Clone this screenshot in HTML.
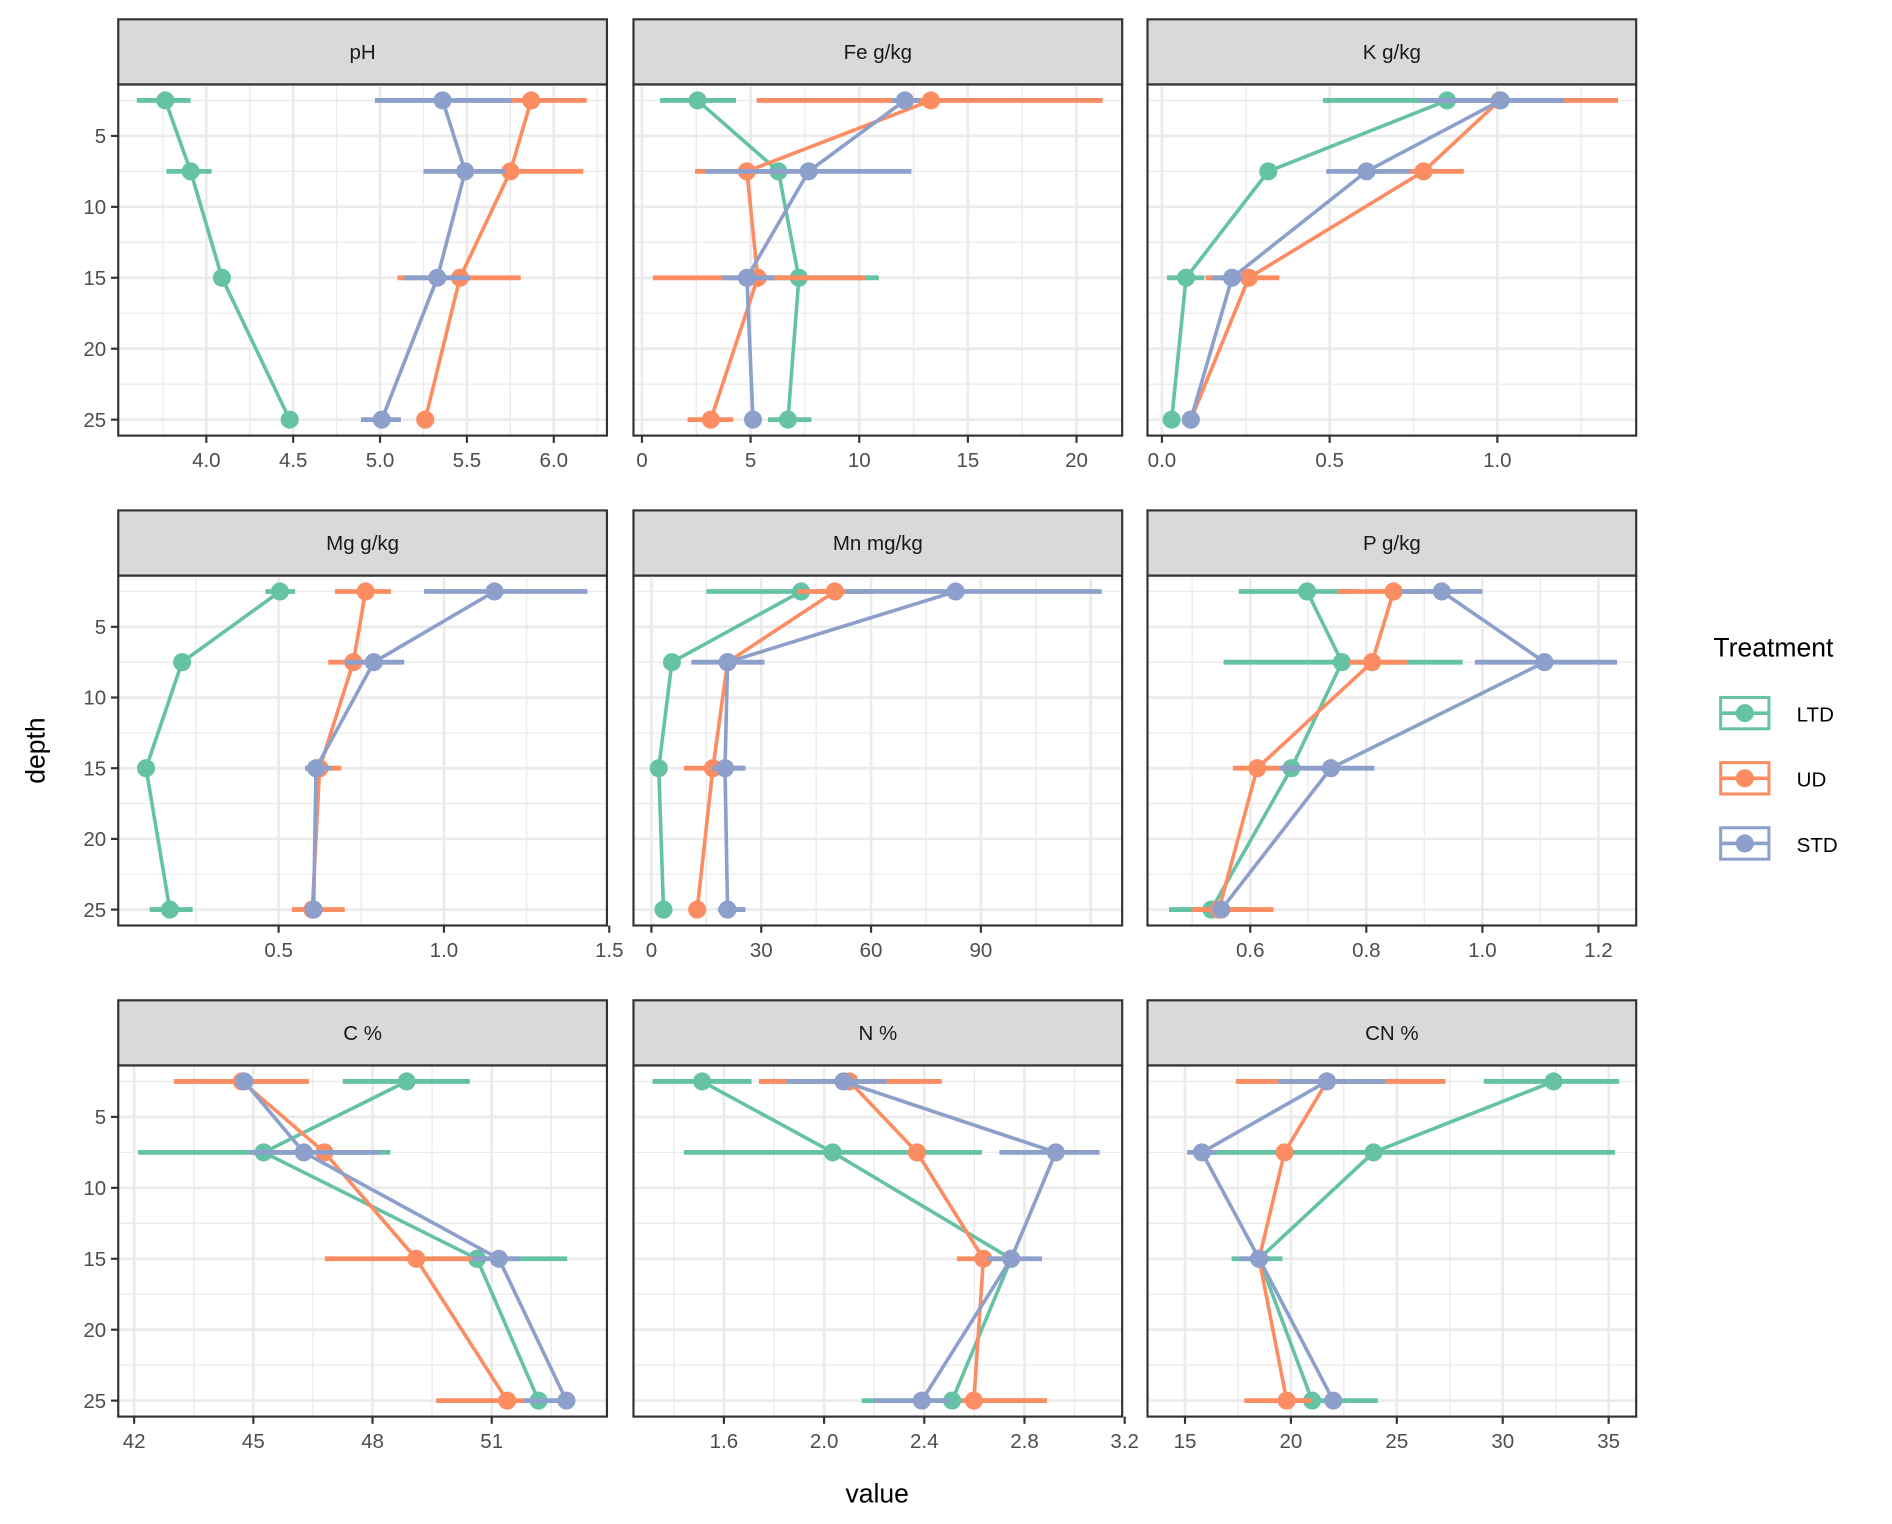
<!DOCTYPE html>
<html><head><meta charset="utf-8"><style>
html,body{margin:0;padding:0;background:#fff}
svg{display:block}
text{font-family:"Liberation Sans",sans-serif}
</style></head><body>
<svg id="chart" xmlns="http://www.w3.org/2000/svg" width="1892" height="1524" viewBox="0 0 1568 1263"></svg>
<script>
const depths = [2.5, 7.5, 15, 25];
const groups = ["LTD", "UD", "STD"];
const colors = {LTD: "#66c2a5", UD: "#fc8d62", STD: "#8da0cb"};
const panelTitles = ["pH","Fe g/kg","K g/kg","Mg g/kg","Mn mg/kg","P g/kg","C %","N %","CN %"];
const xDomains = [[3.493,6.306],[-0.39,22.1],[-0.043,1.414],[0.015,1.493],[-4.9,128.6],[0.423,1.265],[41.6,53.9],[1.239,3.19],[13.23,36.3]];
const xTicks = [[4.0,4.5,5.0,5.5,6.0],[0,5,10,15,20],[0.0,0.5,1.0],[0.5,1.0,1.5],[0,30,60,90],[0.6,0.8,1.0,1.2],[42,45,48,51],[1.6,2.0,2.4,2.8,3.2],[15,20,25,30,35]];
const xTickLabels = [["4.0","4.5","5.0","5.5","6.0"],["0","5","10","15","20"],["0.0","0.5","1.0"],["0.5","1.0","1.5"],["0","30","60","90"],["0.6","0.8","1.0","1.2"],["42","45","48","51"],["1.6","2.0","2.4","2.8","3.2"],["15","20","25","30","35"]];
const yTicks = [5,10,15,20,25];
const meanLTD = [[3.764,3.91,4.09,4.48],[2.56,6.28,7.22,6.72],[0.85,0.317,0.072,0.029],[0.504,0.208,0.099,0.171],[40.9,5.6,2.0,3.3],[0.698,0.758,0.671,0.533],[48.86,45.26,50.63,52.18],[1.513,2.034,2.747,2.511],[32.4,23.9,18.5,21.0]];
const meanUD = [[5.87,5.75,5.46,5.26],[13.3,4.83,5.33,3.17],[1.007,0.78,0.259,0.086],[0.763,0.726,0.624,0.602],[50.1,20.8,16.8,12.5],[0.847,0.81,0.612,0.546],[44.71,46.79,49.1,51.39],[2.101,2.371,2.636,2.598],[21.7,19.7,18.5,19.8]];
const meanSTD = [[5.36,5.49,5.33,5.01],[12.1,7.67,4.83,5.11],[1.01,0.61,0.209,0.086],[1.153,0.788,0.613,0.606],[83.1,20.8,20.1,20.8],[0.93,1.107,0.739,0.55],[44.77,46.27,51.18,52.88],[2.077,2.925,2.747,2.39],[21.7,15.8,18.5,22.0]];
const errLTD = [[[3.6,3.91],[3.77,4.03],null,null],[[0.83,4.33],null,[5.6,10.9],[5.8,7.8]],[[0.48,1.03],null,[0.015,0.126],null],[[0.46,0.55],[0.19,0.23],null,[0.11,0.24]],[[15,53],null,null,null],[[0.58,0.78],[0.554,0.966],null,[0.46,0.6]],[[47.25,50.45],[42.1,48.45],[49.5,52.9],null],[[1.315,1.71],[1.44,2.63],null,[2.15,2.87]],[[29.1,35.5],[15.6,35.3],[17.2,19.6],[19.5,24.1]]];
const errUD = [[[5.53,6.19],[5.33,6.17],[5.10,5.81],null],[[5.28,21.2],[2.44,7.0],[0.5,10.3],[2.1,4.2]],[[0.78,1.36],[0.6,0.9],[0.13,0.35],null],[[0.67,0.84],[0.65,0.81],[0.58,0.69],[0.54,0.7]],[[40,60],null,[8.9,25.4],null],[[0.75,0.9],[0.77,0.87],[0.57,0.67],[0.5,0.64]],[[43.0,46.4],null,[46.8,50.8],[49.6,51.9]],[[1.74,2.47],null,[2.53,2.77],[2.55,2.89]],[[17.4,27.3],null,null,[17.8,21.0]]];
const errSTD = [[[4.97,5.76],[5.25,5.72],[5.14,5.52],[4.89,5.12]],[[11.5,12.8],[2.9,12.4],[3.7,6.1],null],[[0.77,1.2],[0.49,0.74],[0.15,0.24],null],[[0.94,1.434],[0.7,0.88],[0.58,0.66],null],[[53,123],[10.9,30.9],[16.5,25.7],[18.2,25.7]],[[0.86,1.0],[0.987,1.232],[0.65,0.814],null],[[44.6,45.0],[44.9,48.2],[50.5,51.7],[51.8,52.9]],[[1.85,2.25],[2.7,3.1],[2.65,2.87],[2.2,2.5]],[[19.4,24.5],[15.1,16.5],[17.6,19.0],null]];

const svg = document.getElementById('chart');
const NS = "http://www.w3.org/2000/svg";
function mk(tag, attrs, parent){ const e=document.createElementNS(NS,tag); for(const k in attrs) e.setAttribute(k,attrs[k]); (parent||svg).appendChild(e); return e; }

const colX = [98, 525, 951];
const PW = 405;
const rows = [{st:16, top:70, bot:361},{st:423, top:477, bot:767},{st:829, top:883, bot:1174}];
const yDom = [1.375, 26.125];
const means = {LTD: meanLTD, UD: meanUD, STD: meanSTD};
const errs = {LTD: errLTD, UD: errUD, STD: errSTD};
const defs = mk('defs',{});

for(let p=0;p<9;p++){
  const r = rows[Math.floor(p/3)], x0 = colX[p%3], x1 = x0+PW;
  const cpath = mk('clipPath',{id:'clip'+p},defs);
  mk('rect',{x:x0,y:r.top,width:PW,height:r.bot-r.top},cpath);
  const g = mk('g',{});
  
  
  const xs = v => x0 + (v - xDomains[p][0])/(xDomains[p][1]-xDomains[p][0])*PW;
  const ys = d => r.top + (d - yDom[0])/(yDom[1]-yDom[0])*(r.bot-r.top);
  const strip = mk('rect',{x:x0,y:r.st,width:PW,height:r.top-r.st,fill:'#d9d9d9',stroke:'#333',"stroke-width":1.8},g);
  
  
  const st = mk('text',{x:x0+PW/2,y:(r.st+r.top)/2+6,"text-anchor":"middle","font-size":17,fill:'#1a1a1a'},g);
  st.textContent = panelTitles[p];
  
  
  const cp = mk('g',{"clip-path":'url(#clip'+p+')'},g);
  const ticks = xTicks[p], step = ticks[1]-ticks[0];
  for(let v=ticks[0]-step/2; v<=xDomains[p][1]; v+=step/2){
    if(v<xDomains[p][0]) continue;
    const major = Math.abs(((v-ticks[0])/step) - Math.round((v-ticks[0])/step))<1e-6;
    mk('line',{x1:xs(v),x2:xs(v),y1:r.top,y2:r.bot,stroke:'#ebebeb',"stroke-width":major?2.2:1.1},cp);
  }
  for(let d=2.5; d<=25; d+=2.5){
    const major = d%5===0;
    mk('line',{x1:x0,x2:x1,y1:ys(d),y2:ys(d),stroke:'#ebebeb',"stroke-width":major?2.2:1.1},cp);
  }
  groups.forEach(grp=>{
    const sg = mk('g',{},cp);
    
    
    const c = colors[grp];
    errs[grp][p].forEach((e,i)=>{
      if(!e) return;
      const eb = mk('line',{x1:xs(e[0]),x2:xs(e[1]),y1:ys(depths[i]),y2:ys(depths[i]),stroke:c,"stroke-width":4},sg);
      
      
    });
    const pts = means[grp][p].map((v,i)=>xs(v)+','+ys(depths[i])).join(' ');
    const ln = mk('polyline',{points:pts,fill:'none',stroke:c,"stroke-width":3},sg);
    
    
    means[grp][p].forEach((v,i)=>{
      const pt = mk('circle',{cx:xs(v),cy:ys(depths[i]),r:7.5,fill:c},sg);
      
      
    });
  });
  mk('rect',{x:x0,y:r.top,width:PW,height:r.bot-r.top,fill:'none',stroke:'#333',"stroke-width":1.8},g);
  ticks.forEach((t,i)=>{
    const x = xs(t);
    mk('line',{x1:x,x2:x,y1:r.bot,y2:r.bot+6,stroke:'#333',"stroke-width":1.8},g);
    const tl = mk('text',{x:x,y:r.bot+26,"text-anchor":"middle","font-size":17,fill:'#4d4d4d'},g);
    tl.textContent = xTickLabels[p][i];
    
    
  });
  if(p%3===0){
    yTicks.forEach(d=>{
      mk('line',{x1:x0-6,x2:x0,y1:ys(d),y2:ys(d),stroke:'#333',"stroke-width":1.8},g);
      const yl = mk('text',{x:x0-10,y:ys(d)+6,"text-anchor":"end","font-size":17,fill:'#4d4d4d'},g);
      yl.textContent = d;
      
      
    });
  }
}
const xt = mk('text',{x:727,y:1245,"text-anchor":"middle","font-size":22,fill:'#000'});
xt.textContent='value';


const yt = mk('text',{x:37,y:622,"text-anchor":"middle","font-size":22,fill:'#000',transform:'rotate(-90 37 622)'});
yt.textContent='depth';


const lg = mk('g',{});


const lt = mk('text',{x:1420,y:544,"font-size":22,fill:'#000'},lg);
lt.textContent='Treatment';


groups.forEach((grp,i)=>{
  const y = 591 + i*54;
  const e = mk('g',{},lg);
  
  
  mk('rect',{x:1426,y:y-13,width:40,height:26,fill:'#fff',stroke:colors[grp],"stroke-width":2.5},e);
  mk('line',{x1:1426,x2:1466,y1:y,y2:y,stroke:colors[grp],"stroke-width":3},e);
  mk('circle',{cx:1446,cy:y,r:7.5,fill:colors[grp]},e);
  const t = mk('text',{x:1489,y:y+7,"font-size":17,fill:'#000'},e);
  t.textContent = grp;
});
</script>
</body></html>
